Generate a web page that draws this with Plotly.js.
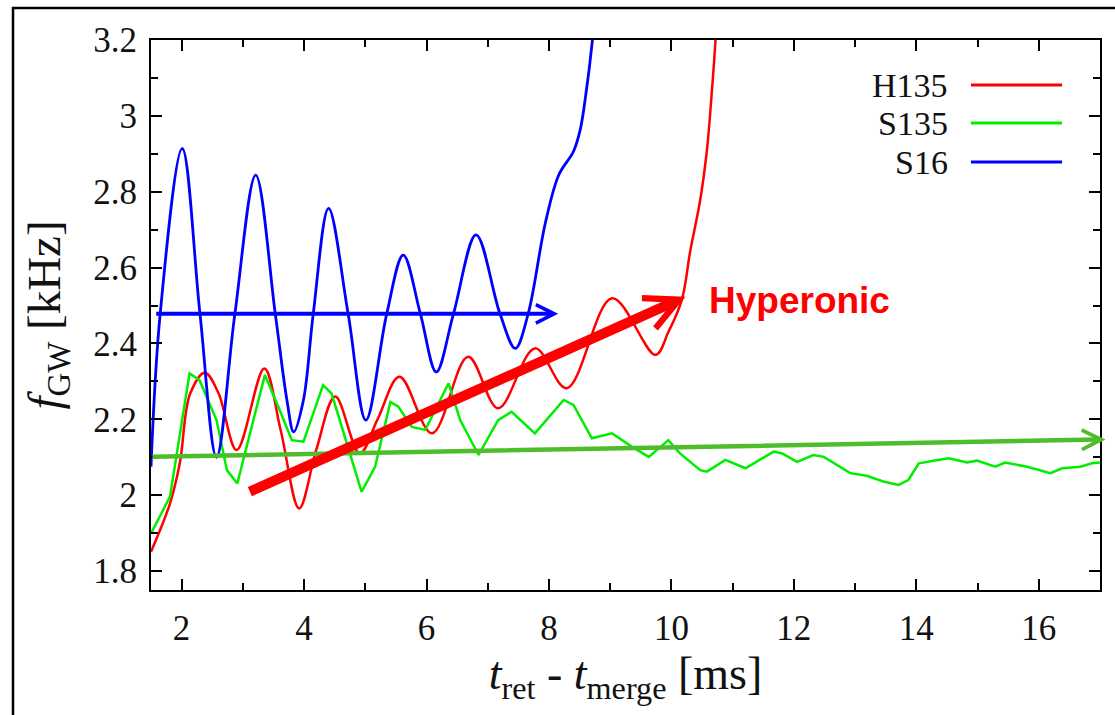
<!DOCTYPE html>
<html>
<head>
<meta charset="utf-8">
<script src="https://cdn.plot.ly/plotly-3.0.1.min.js"></script>
<style>
  html, body { margin: 0; padding: 0; background: #ffffff; }
  #chart { width: 1115px; height: 715px; }
</style>
</head>
<body>
<div id="chart"></div>
<script>
// ---------- data ----------
const seriesNames = ['H135', 'S135', 'S16'];
const seriesColors = ['#ff0000', '#00ee00', '#0000ff'];

// H135 (red)
const h135X = [1.5, 1.81, 1.97, 2.14, 2.38, 2.6, 2.90, 3.35, 3.62, 3.92, 4.2, 4.51, 4.91, 5.2, 5.56, 6.09, 6.68, 7.17, 7.77, 8.29, 9.03, 9.74, 9.95, 10.17, 10.31, 10.47, 10.58, 10.65, 10.72, 10.75];
const h135Y = [1.851, 1.978, 2.084, 2.268, 2.323, 2.27, 2.119, 2.334, 2.17, 1.965, 2.12, 2.26, 2.11, 2.2, 2.312, 2.163, 2.365, 2.229, 2.387, 2.282, 2.519, 2.37, 2.43, 2.515, 2.646, 2.778, 2.91, 3.042, 3.2, 3.3];

// S135 (green)
const s135X = [1.5, 1.81, 2.13, 2.29, 2.57, 2.74, 2.91, 3.36, 3.58, 3.80, 3.99, 4.31, 4.45, 4.94, 5.16, 5.41, 5.54, 5.76, 5.98, 6.36, 6.55, 6.85, 7.17, 7.39, 7.77, 8.24, 8.40, 8.70, 9.03, 9.35, 9.63, 9.95, 10.14, 10.47, 10.58, 10.88, 11.21, 11.67, 11.81, 12.05, 12.32, 12.49, 12.92, 13.19, 13.46, 13.71, 13.87, 14.04, 14.28, 14.53, 14.83, 14.99, 15.29, 15.45, 15.81, 16.19, 16.38, 16.68, 16.87, 17.0];
const s135Y = [1.899, 1.996, 2.321, 2.304, 2.198, 2.066, 2.031, 2.317, 2.233, 2.145, 2.141, 2.29, 2.268, 2.009, 2.075, 2.246, 2.233, 2.18, 2.172, 2.295, 2.198, 2.106, 2.198, 2.22, 2.163, 2.251, 2.238, 2.15, 2.163, 2.128, 2.101, 2.145, 2.11, 2.066, 2.062, 2.093, 2.071, 2.115, 2.11, 2.088, 2.106, 2.101, 2.058, 2.051, 2.036, 2.027, 2.04, 2.084, 2.091, 2.097, 2.086, 2.091, 2.075, 2.086, 2.075, 2.058, 2.071, 2.075, 2.084, 2.086];

// S16 (blue)
const s16X = [1.5, 1.65, 2.01, 2.30, 2.57, 2.87, 3.21, 3.53, 3.72, 3.83, 3.99, 4.15, 4.40, 4.72, 5.01, 5.35, 5.62, 5.90, 6.16, 6.44, 6.81, 7.20, 7.45, 7.66, 7.94, 8.16, 8.40, 8.51, 8.59, 8.71, 8.76];
const s16Y = [2.075, 2.478, 2.914, 2.478, 2.10, 2.478, 2.844, 2.478, 2.251, 2.167, 2.251, 2.478, 2.756, 2.478, 2.198, 2.478, 2.633, 2.478, 2.325, 2.478, 2.686, 2.478, 2.387, 2.478, 2.717, 2.844, 2.906, 2.963, 3.042, 3.2, 3.3];

// annotation arrows: [tailX, tailY, headX, headY]
const blueArrow = [1.56, 2.478, 8.15, 2.478];
const greenArrow = [1.5, 2.101, 17.09, 2.147];
const redArrow = [3.09, 2.0075, 10.23, 2.523];
const hyperonicLabel = 'Hyperonic';
const hyperonicPos = [10.58, 2.512];

// axis settings
const xRange = [1.5, 17];
const yRange = [1.75, 3.2];

// ---------- traces ----------
const serif = "'Liberation Serif'";
const traces = [
  { x: h135X, y: h135Y, name: seriesNames[0], type: 'scatter', mode: 'lines',
    line: { color: seriesColors[0], width: 2.5, shape: 'spline', smoothing: 1 } },
  { x: s135X, y: s135Y, name: seriesNames[1], type: 'scatter', mode: 'lines',
    line: { color: seriesColors[1], width: 2.5 } },
  { x: s16X, y: s16Y, name: seriesNames[2], type: 'scatter', mode: 'lines',
    line: { color: seriesColors[2], width: 2.8, shape: 'spline', smoothing: 1 } }
];

// ---------- custom legend (text left, sample line right) ----------
const legendRowsY = [0.918, 0.849, 0.778];
const annotations = [];
const shapes = [];
seriesNames.forEach((nm, i) => {
  annotations.push({ xref: 'paper', yref: 'paper', x: 0.8419, y: legendRowsY[i],
    xanchor: 'right', yanchor: 'middle', text: nm, showarrow: false,
    font: { family: serif, size: 34, color: '#111111' } });
  shapes.push({ type: 'line', xref: 'paper', yref: 'paper',
    x0: 0.864, x1: 0.96, y0: legendRowsY[i], y1: legendRowsY[i],
    line: { color: seriesColors[i], width: 3 } });
});

// outer frame (top and left edges)
shapes.push({ type: 'path', xref: 'paper', yref: 'paper',
  path: 'M -0.1454,-0.3 L -0.1454,1.0582 L 1.1,1.0582',
  line: { color: '#000000', width: 2.5 } });

function arrow(a, color, width, size) {
  return { x: a[2], y: a[3], ax: a[0], ay: a[1], xref: 'x', yref: 'y',
    axref: 'x', ayref: 'y', text: '', showarrow: true, arrowhead: 5,
    arrowsize: size, arrowwidth: width, arrowcolor: color, standoff: 0, startstandoff: 0 };
}
annotations.push(arrow(blueArrow, '#0000ff', 4, 0.9));
annotations.push(arrow(greenArrow, '#4dbd2a', 4.5, 0.85));
annotations.push(arrow(redArrow, '#ff0000', 10, 0.65));
annotations.push({ x: hyperonicPos[0], y: hyperonicPos[1], xref: 'x', yref: 'y',
  xanchor: 'left', yanchor: 'middle', showarrow: false, text: '<b>' + hyperonicLabel + '</b>',
  font: { family: "'Liberation Sans'", size: 37, color: '#ff0000' } });

const axisCommon = {
  showline: true, linecolor: '#000000', linewidth: 2, mirror: 'ticks',
  ticks: 'inside', ticklen: 11, tickwidth: 2, tickcolor: '#000000',
  showgrid: false, zeroline: false,
  tickfont: { family: serif, size: 35, color: '#111111' }
};

const layout = {
  width: 1115, height: 715,
  margin: { l: 151, r: 15, t: 40, b: 125 },
  paper_bgcolor: '#ffffff', plot_bgcolor: '#ffffff',
  font: { family: serif },
  showlegend: false,
  xaxis: Object.assign({}, axisCommon, {
    range: xRange, tick0: 0, dtick: 2, ticklabelstandoff: 6,
    minor: { dtick: 1, tick0: 0, ticks: 'inside', ticklen: 7, tickwidth: 2, tickcolor: '#000000' },
    title: { text: '<i>t</i><sub>ret</sub> - <i>t</i><sub>merge</sub> [ms]',
      font: { family: serif, size: 46, color: '#111111' }, standoff: 8 }
  }),
  yaxis: Object.assign({}, axisCommon, {
    range: yRange, tick0: 1.8, dtick: 0.2, ticklabelstandoff: 5,
    minor: { dtick: 0.1, tick0: 1.8, ticks: 'inside', ticklen: 7, tickwidth: 2, tickcolor: '#000000' },
    title: { text: '<i>f</i><sub>GW</sub> [kHz]',
      font: { family: serif, size: 47, color: '#111111' }, standoff: 18 }
  }),
  annotations: annotations,
  shapes: shapes
};

Plotly.newPlot('chart', traces, layout, { staticPlot: true, displayModeBar: false });
</script>
</body>
</html>
